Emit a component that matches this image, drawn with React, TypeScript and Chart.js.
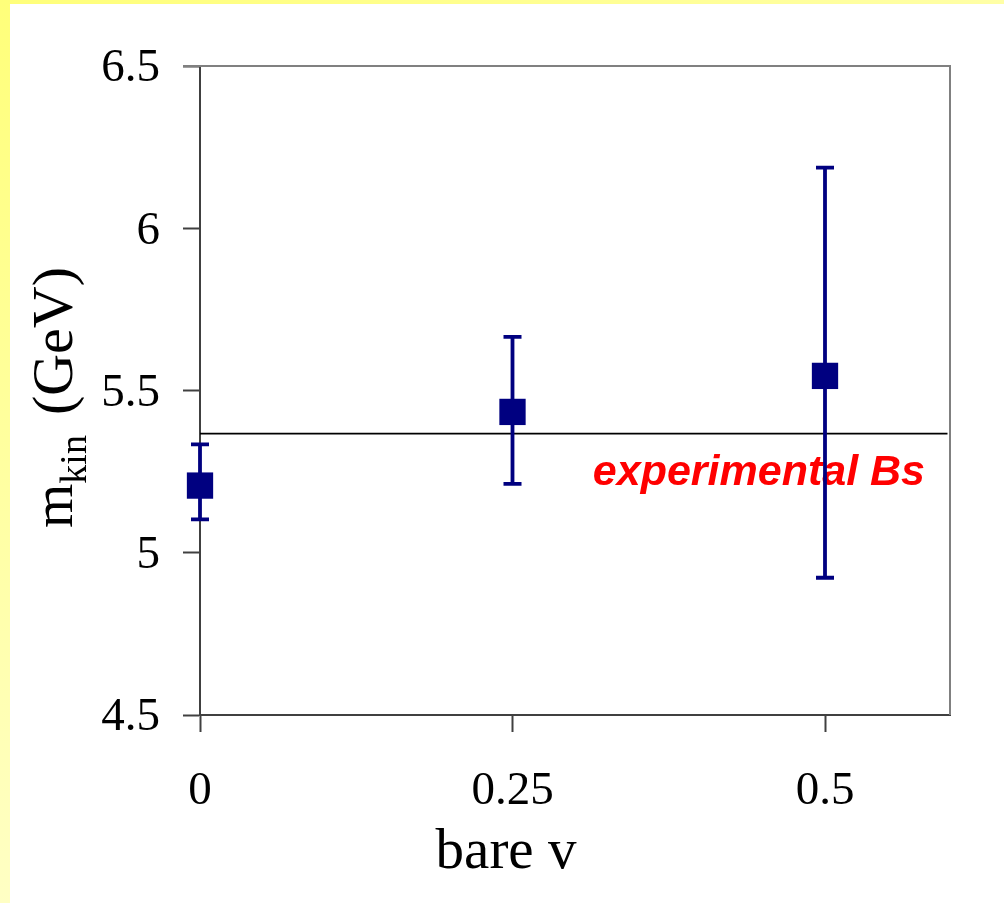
import React, { useEffect, useRef } from "react";
import { Chart, registerables } from "chart.js";

Chart.register(...registerables);

const xValues = [0, 0.25, 0.5];
const yValues = [5.207, 5.434, 5.545];
const yHigh = [5.334, 5.665, 6.187];
const yLow = [5.103, 5.212, 4.923];
const xTickValues = [0, 0.25, 0.5];
const refLineY = 5.367;
const refLabel = "experimental Bs";
const refLabelX = 0.58;
const refLabelY = 5.209;
const xTitle = "bare v";
const yTitleMain = "m";
const yTitleSub = "kin";
const yTitleUnit = "(GeV)";

const NAVY = "#000080";
const SERIF = "'Liberation Serif', 'Times New Roman', serif";
const SANS = "'Liberation Sans', Arial, sans-serif";

const decorPlugin = {
  id: "decor",
  beforeDraw(chart: any) {
    const ctx = chart.ctx;
    const W = chart.width;
    const H = chart.height;
    ctx.save();
    ctx.fillStyle = "#ffffff";
    ctx.fillRect(0, 0, W, H);
    const gTop = ctx.createLinearGradient(0, 0, W, 0);
    gTop.addColorStop(0, "#ffff7a");
    gTop.addColorStop(1, "#ffffa6");
    ctx.fillStyle = gTop;
    ctx.fillRect(0, 0, W, 4);
    const gLeft = ctx.createLinearGradient(0, 0, 0, H);
    gLeft.addColorStop(0, "#ffff7a");
    gLeft.addColorStop(1, "#ffffc4");
    ctx.fillStyle = gLeft;
    ctx.fillRect(0, 0, 10, H);
    ctx.restore();
  },
  beforeDatasetsDraw(chart: any) {
    const ctx = chart.ctx;
    const xs = chart.scales.x;
    const ys = chart.scales.y;
    ctx.save();
    ctx.font = `italic bold 43px ${SANS}`;
    ctx.fillStyle = "#ff0000";
    ctx.textAlign = "right";
    ctx.textBaseline = "alphabetic";
    ctx.fillText(refLabel, xs.getPixelForValue(refLabelX), ys.getPixelForValue(refLabelY));
    ctx.restore();
  },
  beforeDatasetDraw(chart: any, args: any) {
    if (args.index !== 0) return;
    const ctx = chart.ctx;
    const xs = chart.scales.x;
    const ys = chart.scales.y;
    ctx.save();
    ctx.strokeStyle = NAVY;
    ctx.lineWidth = 3.8;
    ctx.lineCap = "butt";
    for (let i = 0; i < xValues.length; i++) {
      const px = xs.getPixelForValue(xValues[i]);
      const pHi = ys.getPixelForValue(yHigh[i]);
      const pLo = ys.getPixelForValue(yLow[i]);
      ctx.beginPath();
      ctx.moveTo(px, pHi);
      ctx.lineTo(px, pLo);
      ctx.moveTo(px - 9, pHi);
      ctx.lineTo(px + 9, pHi);
      ctx.moveTo(px - 9, pLo);
      ctx.lineTo(px + 9, pLo);
      ctx.stroke();
    }
    ctx.restore();
  },
  afterDraw(chart: any) {
    const ctx = chart.ctx;
    const a = chart.chartArea;
    ctx.save();
    // top and right frame
    ctx.strokeStyle = "#808080";
    ctx.lineWidth = 2;
    ctx.beginPath();
    ctx.moveTo(a.left - 17, a.top);
    ctx.lineTo(a.right, a.top);
    ctx.lineTo(a.right, a.bottom);
    ctx.stroke();
    // x title
    ctx.fillStyle = "#000000";
    ctx.font = `57px ${SERIF}`;
    ctx.textAlign = "center";
    ctx.textBaseline = "alphabetic";
    ctx.fillText(xTitle, (a.left + a.right) / 2 - 69, 868);
    // y title (rotated)
    ctx.translate(72, 528);
    ctx.rotate(-Math.PI / 2);
    ctx.textAlign = "left";
    ctx.font = `57px ${SERIF}`;
    ctx.fillText(yTitleMain, 0, 0);
    let off = ctx.measureText(yTitleMain).width;
    ctx.font = `38px ${SERIF}`;
    ctx.fillText(yTitleSub, off, 14);
    off += ctx.measureText(yTitleSub).width + 20;
    ctx.font = `58px ${SERIF}`;
    ctx.fillText(yTitleUnit, off, 0);
    ctx.restore();
  },
};

export default function App() {
  const ref = useRef<HTMLCanvasElement | null>(null);
  useEffect(() => {
    if (!ref.current) return;
    const chart = new Chart(ref.current, {
      type: "scatter",
      data: {
        datasets: [
          {
            type: "scatter",
            data: xValues.map((x, i) => ({ x, y: yValues[i] })),
            backgroundColor: NAVY,
            borderWidth: 0,
            pointStyle: "rect",
            pointRadius: 18.6,
            pointHoverRadius: 18.6,
            clip: false,
            order: 0,
          },
          {
            type: "line",
            data: [
              { x: 0, y: refLineY },
              { x: 0.598, y: refLineY },
            ],
            borderColor: "#000000",
            borderWidth: 1.6,
            pointRadius: 0,
            fill: false,
            order: 1,
          },
        ],
      } as any,
      options: {
        responsive: false,
        animation: false,
        devicePixelRatio: 1,
        layout: { padding: { left: 0, right: 54, top: 66, bottom: 88 } },
        plugins: {
          legend: { display: false },
          tooltip: { enabled: false },
        },
        scales: {
          x: {
            type: "linear",
            min: 0,
            max: 0.6,
            afterBuildTicks: (scale: any) => {
              scale.ticks = xTickValues.map((v) => ({ value: v }));
            },
            afterFit: (scale: any) => {
              scale.height = 100;
            },
            grid: {
              drawOnChartArea: false,
              drawTicks: true,
              tickLength: 17,
              tickColor: "#404040",
              tickWidth: 2,
            },
            border: { display: true, color: "#404040", width: 2 },
            ticks: {
              padding: 31,
              color: "#000000",
              font: { family: SERIF, size: 47 },
              maxRotation: 0,
              callback: (v: any) => String(v),
            },
          },
          y: {
            type: "linear",
            min: 4.5,
            max: 6.5,
            afterFit: (scale: any) => {
              scale.width = 200;
            },
            grid: {
              drawOnChartArea: false,
              drawTicks: true,
              tickLength: 17,
              tickColor: "#404040",
              tickWidth: 2,
            },
            border: { display: true, color: "#404040", width: 2 },
            ticks: {
              stepSize: 0.5,
              padding: 23,
              labelOffset: 3,
              color: "#000000",
              font: { family: SERIF, size: 47 },
              callback: (v: any) => String(v),
            },
          },
        },
      },
      plugins: [decorPlugin],
    } as any);
    return () => chart.destroy();
  }, []);
  return (
    <div style={{ position: "absolute", left: 0, top: 0, width: 1004, height: 903 }}>
      <canvas ref={ref} width={1004} height={903} style={{ display: "block" }} />
    </div>
  );
}
